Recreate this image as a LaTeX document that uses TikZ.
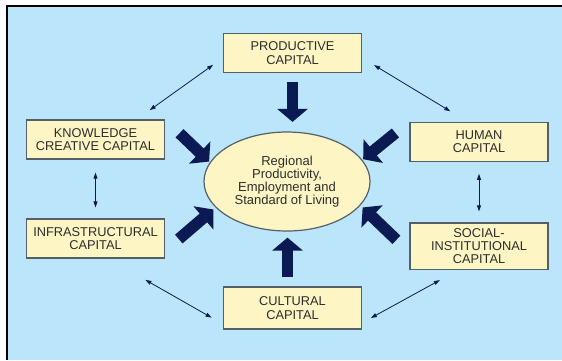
\documentclass[tikz,border=0pt]{standalone}
\usepackage{fontspec}
\setmainfont{Liberation Sans}
\usepackage{tikz}
\usetikzlibrary{shapes.geometric, arrows.meta}

\definecolor{skyblue}{RGB}{186,229,250}
\definecolor{boxfill}{RGB}{253,245,196}
\definecolor{boxline}{RGB}{85,95,105}
\definecolor{navyarrow}{RGB}{12,26,84}
\definecolor{textgray}{RGB}{45,45,45}

\tikzset{
    capbox/.style={draw=boxline, line width=1.2pt, fill=boxfill, text=textgray,
        minimum width=138pt, minimum height=39pt, inner ysep=5.5pt, align=center,
        font=\fontsize{12.8}{13.2}\selectfont},
    bigarrow/.style={navyarrow, line width=11.5pt, -{Triangle[width=30pt,length=13pt]}},
    link/.style={navyarrow, line width=0.8pt, {Triangle[width=4pt,length=6pt]}-{Triangle[width=4pt,length=6pt]}}
}

\begin{document}
\begin{tikzpicture}[x=1pt, y=-1pt]
    \useasboundingbox (0,0) rectangle (562,360);

    % frame and sky blue panel
    \fill[white] (0,0) rectangle (562,360);
    \fill[skyblue] (7,6) rectangle (562,360);
    \draw[black, line width=2pt] (6.5,360) -- (6.5,5.5) -- (562,5.5);

    % the six kinds of capital
    \node[capbox] (prod)   at (292.5,53)    {PRODUCTIVE\\CAPITAL};
    \node[capbox] (know)   at (95.5,139.5)  {KNOWLEDGE\\CREATIVE CAPITAL};
    \node[capbox] (human)  at (479,141.7)   {HUMAN\\CAPITAL};
    \node[capbox] (infra)  at (95.5,238.5)  {INFRASTRUCTURAL\\CAPITAL};
    \node[capbox] (social) at (479,246.2)   {SOCIAL-\\INSTITUTIONAL\\CAPITAL};
    \node[capbox, minimum height=42pt] (cult) at (292.5,308) {CULTURAL\\CAPITAL};

    % the goal in the middle
    \node[ellipse, draw=boxline, line width=1.2pt, fill=boxfill, text=textgray,
        minimum width=166pt, minimum height=99pt, inner sep=0pt, align=center,
        font=\fontsize{13}{12.8}\selectfont] (goal) at (287,181.5)
        {Regional\\Productivity,\\Employment and\\Standard of Living};

    % heavy arrows into the goal
    \draw[bigarrow, shorten <=8.5pt, shorten >=9.5pt] (prod.south) -- (prod.south |- goal.north);
    \draw[bigarrow, shorten <=9pt, shorten >=6pt] ([xshift=-5pt]cult.north) -- ([xshift=-5pt]cult.north |- goal.south);
    \draw[bigarrow, shorten <=20pt, shorten >=1pt] (know.north east) -- (goal.166);
    \draw[bigarrow, shorten <=18pt, shorten >=1pt] (human.north west) -- (goal.16);
    \draw[bigarrow, shorten <=18pt, shorten >=3pt] (infra.-10) -- (goal.200);
    \draw[bigarrow, shorten <=18pt, shorten >=3pt] (social.185) -- (goal.342);

    % thin two-way links round the ring
    \foreach \a/\b/\s/\e in {know.26/prod.184/16pt/12pt, prod.-4/human.120/14pt/20pt,
        know.south/infra.north/13pt/11pt, human.south/social.north/12pt/11pt,
        infra.-58/cult.193/43pt/13pt, cult.-12/social.229/10pt/21pt}{
        \draw[link, shorten <=\s, shorten >=\e] (\a) -- (\b);
    }
\end{tikzpicture}
\end{document}
